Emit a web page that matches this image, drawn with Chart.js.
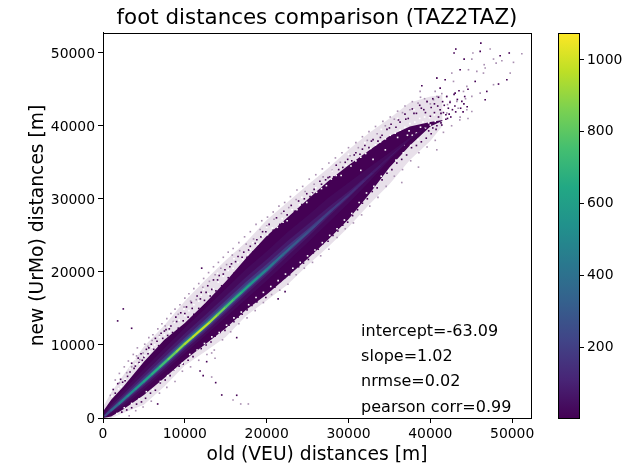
<!DOCTYPE html>
<html><head><meta charset="utf-8">
<script src="https://cdn.jsdelivr.net/npm/chart.js@4"></script>
<style>html,body{margin:0;padding:0;background:#fff;overflow:hidden}canvas{position:absolute;top:0}</style>
</head><body>
<canvas id="main" width="636" height="466" style="left:0"></canvas>
<canvas id="bar" width="90" height="466" style="left:546px"></canvas>
<script>
const titleText = "foot distances comparison (TAZ2TAZ)";
const xTitle = "old (VEU) distances [m]";
const yTitle = "new (UrMo) distances [m]";
const statLines = ["intercept=-63.09","slope=1.02","nrmse=0.02","pearson corr=0.99"];
const axisTicks = [0,10000,20000,30000,40000,50000];
const colorbarTicks = [200,400,600,800,1000];
const countRange = [4,1075];
const viridisStops = ["#440154","#482576","#414487","#35608d","#2a788e","#21918c","#22a884","#44bf70","#7ad151","#bddf26","#fde725"];

const xKnots = [0,1000,2500,5000,7500,10000,12500,15000,17500,20000,22500,25000,27500,30000,32500,35000,37500,40000,41500];
const sparseLow = [0,0,700,1800,4300,7200,9100,11100,14000,16100,18200,20900,23400,26100,29200,32000,35300,37900,40000];
const sparseHigh = [1500,3500,5900,9800,12700,16000,18900,21600,24100,27100,29500,31900,34200,36700,39000,41000,43200,44000,44200];
const solidLow = [0,200,1200,3150,5480,7950,10100,12300,14800,16900,19300,21800,24400,27200,30600,34300,37300,39900,40700];
const solidHigh = [900,2500,4300,7700,10700,13000,15750,18700,21900,24900,27400,29900,32400,34600,36600,38600,39900,40500,40800];
const band30Low = [50,600,1600,3900,6350,8850,11300,13800,16300,18800,21400,24000,26700,29400,32300,35300,38100,40200,40700];
const band30High = [400,2000,3800,6700,9550,12350,15000,17700,20400,22800,25400,27700,30100,32200,34300,36300,38400,40200,40700];
const band80Low = [70,800,2000,4300,6750,9300,11750,14350,16950,19500,22150,24750,27500,30150,32900,35620,38200,40200,40700];
const band80High = [200,1600,3300,6100,8850,11550,14100,16700,19300,21700,24200,26500,28800,31000,33350,35800,38200,40200,40700];
const band180Low = [100,950,2200,4600,7050,9600,12050,14650,17300,19850,22500,25100,27820,30420,33100,35700,38200,40200,40700];
const band180High = [100,1350,2950,5600,8300,11000,13500,16100,18650,21050,23550,25850,28280,30600,33100,35700,38200,40200,40700];
const band320Low = [100,1050,2350,4780,7250,9800,12250,14870,17520,20100,22780,25350,28000,30500,33100,35700,38200,40200,40700];
const band320High = [100,1200,2720,5320,7980,10670,13150,15700,18230,20600,23070,25450,28000,30500,33100,35700,38200,40200,40700];
const band520Low = [100,1100,2450,4880,7370,9920,12370,15020,17700,20300,22900,25400,28000,30500,33100,35700,38200,40200,40700];
const band520High = [100,1100,2580,5160,7800,10470,12920,15450,17920,20300,22900,25400,28000,30500,33100,35700,38200,40200,40700];

const ridgeX = [300,1000,2000,3000,4000,5000,6000,7000,8000,9000,10000,11000,12000,13000,14000,15000,16000,17000,18000,19000,20000,21000,22000,23000,24000,25000,26000,27000,28000,29000,30000,31000,32000,33000,34000,35000];
const ridgeY = [350,1050,2000,3000,4000,5000,6020,7040,8070,9110,10150,11130,12100,13080,14130,15200,16240,17280,18310,19300,20300,21340,22380,23400,24400,25400,26420,27480,28500,29500,30500,31540,32580,33600,34640,35700];
const ridgeCount = [180,300,430,490,540,590,640,700,790,870,920,960,1000,960,900,800,720,650,590,530,470,410,370,330,290,260,230,210,190,170,150,125,105,85,65,50];

const specksDark = [[2480,14930],[1790,13290],[3500,12280],[12060,20510],[12670,7710],[11860,6440],[12240,5800],[13770,4840],[14510,3150],[16340,3110],[6680,1920],[16340,11000],[22250,17300],[21400,16300],
[1250,3900],[1800,4700],[2150,5300],[2700,5100],[3300,6300],[3500,7500],[3950,7100],[4300,8200],[4650,8800],[4800,7900],[5300,9400],[5500,8800],[5900,10100],[6200,9400],[6400,10900],[6800,9900],[7100,11600],[7300,10900],[7700,12100],[7900,11300],[8300,12600],[8500,11700],[8900,13800],[9200,12300],[9500,14400],[9800,13300],[10200,15200],[10400,13800],[10800,15800],[11100,14200],[11500,16700],[11700,15000],[12000,17200],[12400,16100],[12800,18100],[13100,16700],[13500,18900],[13800,17400],[14200,19500],[14500,18100],[14900,20300],[15300,19200],[15700,21100],[16000,19800],[16500,22100],[16800,20500],[17200,22700],[17600,22000],[18000,23500],[18300,22700],[18800,24400],[19100,23400],[19500,25500],[19900,25500],[20300,26500],[20800,25700],[21200,27400],[21600,26500],[22100,28300],[22500,27800],[23000,29100],[23400,28300],[23900,29700],[24300,29200],[24900,30700],[25300,30300],[25800,31300],[26300,31000],[26700,32000],[27200,32600],[27700,33000],[28200,33000],[28800,34000],[29300,34300],[29900,35400],[30400,35200],[30900,36300],[31400,36100],[32000,37300],[32500,37000],[33000,38100],[33600,37900],[34100,38700],[34700,39500],[35200,40200],[35800,39800],[36300,40500],[36900,41600],[37300,41000],[37800,42300],[38300,41700],[38700,42800],[39200,42200],[39600,43300],[40100,42500],[40500,43000],[41000,43900],[41200,42200],[41700,42800],[42000,44000],[42400,43200],[42900,44300],[43300,43600],[43640,47670],[43110,50500],[42900,49960],[46170,51320],[49640,49960],[46090,50180],[45480,46070],[48330,45710],[46900,44700],[46700,43560],[49350,46300],[44130,49130],[48530,49590],[40790,46530],[38960,45480],[41200,45160],[41810,46300],[43030,44470],[43850,43330],
[2300,800],[2900,1100],[3500,1400],[4100,1900],[4700,2200],[5200,2700],[5800,3400],[6400,3800],[7000,4800],[7600,5200],[8200,5800],[8700,6600],[9300,7100],[9800,7400],[10400,7900],[11000,8400],[11500,9300],[12000,9500],[12600,10000],[13200,10400],[13700,11200],[14300,11700],[14900,12000],[15400,12700],[16000,13200],[16500,13800],[17000,14200],[17600,14800],[18200,15400],[18800,15900],[19300,16700],[19900,16500],[20500,17600],[21000,17900],[21700,18700],[22200,19200],[22800,19600],[23300,20400],[23900,20700],[24500,21200],[25100,21700],[25700,22600],[26300,23100],[26900,23900],[27500,24200],[28100,25000],[28700,25600],[29300,26400],[29900,26800],[30500,27700],[31100,28500],[31700,29400],[32300,30000],[32900,31000],[33500,31500],[34100,32600],[34700,33500],[35300,34000],[35900,34900],[36500,35400],[37100,36000],[37700,37000],[38300,37300],[38900,37800],[39500,38300],[40100,38900],[40700,39500],[41300,40400],[41900,40900],[42500,41200],[43100,41900],[43700,42400],[44100,43000],[44500,42600],
[1500,3400],[2400,4900],[3000,5700],[3800,6800],[4400,7600],[5000,8300],[5600,9600],[6600,10500],[7500,11900],[8100,12200],[9000,13200],[10000,14300],[10900,15000],[11900,16300],[12600,17200],[13300,17600],[14000,18900],[14700,19700],[15500,20700],[16200,21400],[17000,22000],[17800,23000],[18600,23900],[19300,24800],[24600,30000],[25600,30800],[26500,32400],[27500,32900],[28500,34600],[29600,35000],[30700,36000],[31700,36800],[32800,37900],[33900,38400],[35000,39700],[36100,40800],[37000,40900],[38000,41700],[38900,42400],[39400,41800],[40300,43700],[40900,42700],[41500,43300],[42200,42400],[42700,42200],[43500,44800],[44200,44000],[41600,41800],[42300,41600],[43000,42700],[44600,45000],[44000,41900],
[40000,41300],[40500,41800],[41000,41200],[41300,41700],[41900,41500],[42100,41000],[40800,40000],[41400,40100],[39800,39300],[40300,39700]];

const specksLight = [[13690,8180],[13280,8900],[13280,5610],[15890,2470],[16830,1920],[17760,1920],[47310,50500],[45200,49960],[51180,49860],[50160,48680],[48740,48900],[47720,49130],[45070,49130],[48040,48580],[46580,48360],[49760,47210],[47720,45620],[46090,44470],[44660,47670],[45680,47440],[46700,47900],[46490,47210],[42620,47210],[40790,46530],[42830,46070],[44050,44700],[44460,45390],[45070,44020],[44460,42190],[43640,41190],[45070,41960],[40790,36710],[38550,34340],[36510,32230],[38750,44700],[39570,43330],[40590,44700],[42010,44020],[42420,43330],[43240,43330],[41200,42190],[42010,41740],[40380,43560],
[900,3100],[1500,5200],[2000,6100],[2600,7000],[3100,7800],[3700,8700],[4200,9600],[4500,8000],[5100,10100],[5600,11000],[6100,11400],[6700,12200],[7200,12900],[7800,13600],[8300,14300],[8800,14900],[9400,15500],[10000,16400],[10500,17000],[11100,17700],[11700,18400],[12300,19100],[12900,19900],[13500,20700],[14100,21300],[14700,22000],[15300,22700],[15900,23200],[16600,24000],[17300,24800],[18000,25500],[18700,26500],[19400,27000],[20100,27500],[20800,28200],[21500,29000],[22200,29500],[22900,30300],[23700,31200],[24400,31700],[25200,32700],[26000,33300],[26800,34100],[27600,34900],[28400,35600],[29200,36300],[30000,37000],[30900,37700],[31700,38500],[32500,39200],[33300,39900],[34200,40600],[35100,41200],[36000,42000],[36900,42700],[37800,43300],[38800,43900],
[3200,300],[4000,1000],[4900,1500],[5900,2300],[6900,3400],[7800,4200],[8800,5000],[9700,6400],[10700,7000],[11700,7900],[12700,8700],[13600,9300],[14600,10700],[15600,11800],[16600,12900],[17600,13700],[18600,14700],[19600,15800],[20600,16900],[21600,17500],[22600,18300],[23600,19600],[24600,20500],[25600,21300],[26600,22200],[27600,23100],[28600,24700],[29600,25900],[30600,26700],[31600,27800],[32600,29000],[33600,30200],[34600,31700],[35600,33100],[36600,34000],[37600,35200],[38600,36300],[39600,37100],[40600,38000],[41600,39100],[42600,40000],[43600,40800],[44600,41000],
[2000,4800],[2900,6200],[3500,7000],[4100,8500],[4900,8900],[5500,9800],[6000,10600],[6900,11300],[7600,12600],[8600,13200],[9200,14200],[9900,15200],[10700,16000],[11400,16200],[12200,17900],[13000,18700],[13700,19600],[14400,20500],[15100,21000],[15800,22300],[16700,22900],[17500,23800],[18400,24500],[19200,25800],[20000,26300],[20900,27200],[21800,28000],[22700,28800],[23600,29900],[24700,31000],[25800,32000],[26900,33000],[28000,33900],[29000,35000],[30200,35900],[31200,37000],[32300,38000],[33500,38900],[34500,40000],[35600,40900],[36600,41800],[37500,42200],[38500,43100],[39300,43700],[40000,43000],[40800,44000],[41400,44400],[42100,42900],[43400,42400],[44300,43700]];

const specksWhite = [[1100,3000],[1900,4000],[2700,5300],[3300,6800],[3900,8000],[4500,7400],[5100,8500],[5700,9100],[6300,10000],[6900,11100],[7500,11400],[8100,11800],[8700,13100],[9300,13400],[9900,14900],[10500,14700],[11100,15500],[11700,16000],[12300,17600],[12900,17000],[13500,17700],[14100,18600],[14700,19400],[15300,20200],[15900,20500],[16500,21300],[17100,21700],[17700,22400],[18300,24000],[18900,23800],[19500,24900],[20100,25100],[20700,26000],[21300,26100],[21900,27300],[22500,27000],[23100,28500],[23700,28500],[24300,30200],[24900,29500],[25500,30700],[26100,30900],[26700,31400],[27300,31800],[27900,32700],[28500,33200],[29100,33200],[29700,34600],[30300,34500],[30900,35200],[31500,35700],[32100,36200],[32700,36900],[33300,37400],[33900,37800],[34500,38200],[35100,38700],[35700,39000],[36300,39400],[36900,39800],[37500,40300],[38100,40500],[38700,41000],[39300,41200],[39900,41100],[40500,41500],[37200,38700],[36800,37400],[38800,39800],[39400,39700],[40000,40100],[40600,40600],[37800,38700],
[1700,600],[2600,1400],[3500,2000],[4400,2600],[5300,3600],[6100,3900],[7000,5000],[7900,5800],[8800,6600],[9700,7500],[10600,8700],[11500,9300],[12400,10200],[13300,11100],[14200,11700],[15100,12700],[16000,13700],[16900,14500],[17800,15500],[18700,16500],[19600,17200],[20500,18000],[21400,18800],[22300,19700],[23200,20500],[24100,21300],[25000,22200],[25900,23000],[26800,24000],[27700,25000],[28600,25900],[29500,27100],[30400,28000],[31300,29500],[32200,30800],[33100,31700],[34000,33100],[34900,33800],[35800,35300],[36700,36300],[37600,37300],[38500,38100],
[2200,4300],[4000,7400],[6000,9700],[8000,12500],[10000,14000],[12000,16800],[14000,19800],[16000,21800],[18000,23100],[20000,26100],[22000,26800],[24000,29200],[26000,31500],[28000,33800],[30000,36100],[32000,37700],[34000,39500],[36000,41000],[38000,42200],[33000,35400],[34500,36700],[31500,33900],[36000,38400],[37400,39300],[38300,39000],[39100,40500],[39800,40400]];

function viridis(t){
  t=Math.max(0,Math.min(1,t));
  const p=t*(viridisStops.length-1),i=Math.min(Math.floor(p),viridisStops.length-2),f=p-i;
  const h=s=>[1,3,5].map(k=>parseInt(s.substr(k,2),16));
  const a=h(viridisStops[i]),b=h(viridisStops[i+1]);
  return `rgb(${a.map((v,k)=>Math.round(v+(b[k]-v)*f)).join(",")})`;
}
const countColor=c=>viridis((c-countRange[0])/(countRange[1]-countRange[0]));
const pts=(xs,ys)=>xs.map((x,i)=>({x,y:ys[i]}));
const datasets=[];
let drawOrder=50;
function band(lo,hi,color){
  datasets.push({data:pts(xKnots,lo),borderWidth:0,pointRadius:0,borderColor:"transparent",order:drawOrder--});
  datasets.push({data:pts(xKnots,hi),borderWidth:0,pointRadius:0,borderColor:"transparent",fill:"-1",backgroundColor:color,order:drawOrder--});
}
function specks(list,color){
  datasets.push({data:list.map(p=>({x:p[0],y:p[1]})),showLine:false,pointStyle:"rect",pointRadius:1.15,pointBorderWidth:0,pointBackgroundColor:color,order:drawOrder--});
}
band(sparseLow,sparseHigh,"rgba(68,1,84,0.12)");
band(solidLow,solidHigh,"#440154");
specks(specksLight,"#a98fb1");
specks(specksDark,"#440154");
specks(specksWhite,"#ffffff");
band(band30Low,band30High,countColor(30));
band(band80Low,band80High,countColor(80));
band(band180Low,band180High,countColor(180));
band(band320Low,band320High,countColor(320));
band(band520Low,band520High,countColor(520));
datasets.push({data:pts(ridgeX,ridgeY),borderWidth:2.1,pointRadius:0,borderCapStyle:"round",order:0,
  segment:{borderColor:ctx=>countColor((ridgeCount[ctx.p0DataIndex]+ridgeCount[ctx.p1DataIndex])/2)}});

const FONT="'DejaVu Sans'";
const frame={id:"frame",afterDatasetsDraw(c){
  const a=c.chartArea,g=c.ctx;g.save();g.strokeStyle="#000";g.lineWidth=1;
  g.strokeRect(Math.round(a.left)+.5,Math.round(a.top)+.5,Math.round(a.right-a.left),Math.round(a.bottom-a.top));g.restore();
}};
const stats={id:"stats",afterDatasetsDraw(c){
  const g=c.ctx,x=c.scales.x.getPixelForValue(31540),top=c.scales.y.getPixelForValue(11780);
  g.save();g.fillStyle="#000";g.font="16px "+FONT;g.textBaseline="middle";
  statLines.forEach((s,i)=>g.fillText(s,x,top+i*25.2));g.restore();
}};
const tickFont={family:FONT,size:13.9};
const useTicks=s=>{s.ticks=axisTicks.map(value=>({value}));};
new Chart(document.getElementById("main"),{
  type:"line",
  data:{datasets},
  options:{responsive:false,animation:false,parsing:true,
    layout:{padding:{right:105,left:0,top:0,bottom:0}},
    events:[],
    plugins:{legend:{display:false},tooltip:{enabled:false},
      title:{display:true,text:titleText,fullSize:false,color:"#000",font:{family:FONT,size:21.4,weight:"normal"},padding:{top:6,bottom:1.3}}},
    scales:{
      x:{type:"linear",min:0,max:52300,border:{color:"#000"},
        grid:{drawOnChartArea:false,color:"#000",tickLength:5},
        afterBuildTicks:useTicks,
        ticks:{color:"#000",font:tickFont,maxRotation:0,autoSkip:false,padding:3,callback:v=>String(v)},
        title:{display:true,text:xTitle,color:"#000",font:{family:FONT,size:18.7},padding:{top:0,bottom:0}},
        afterFit(s){s.height=48;}},
      y:{type:"linear",min:0,max:52700,border:{color:"#000"},
        grid:{drawOnChartArea:false,color:"#000",tickLength:5},
        afterBuildTicks:useTicks,
        ticks:{color:"#000",font:tickFont,autoSkip:false,padding:3,labelOffset:1.5,callback:v=>String(v)},
        title:{display:true,text:yTitle,color:"#000",font:{family:FONT,size:18.7},padding:{top:27,bottom:0}},
        afterFit(s){s.width=103;}}
    }},
  plugins:[frame,stats]
});
new Chart(document.getElementById("bar"),{
  type:"bar",
  data:{labels:["counts"],datasets:[{data:[countRange],barPercentage:1,categoryPercentage:1,borderWidth:0,
    backgroundColor(ctx){
      const a=ctx.chart.chartArea;if(!a)return viridisStops[0];
      const g=ctx.chart.ctx.createLinearGradient(0,a.bottom,0,a.top);
      viridisStops.forEach((c,i)=>g.addColorStop(i/(viridisStops.length-1),c));return g;}}]},
  options:{responsive:false,animation:false,events:[],
    layout:{padding:{left:12,right:0,top:33,bottom:48}},
    plugins:{legend:{display:false},tooltip:{enabled:false},title:{display:false}},
    scales:{
      x:{display:false},
      y:{position:"right",min:countRange[0],max:countRange[1],border:{color:"#000"},
        grid:{drawOnChartArea:false,color:"#000",tickLength:5},
        afterBuildTicks(s){s.ticks=colorbarTicks.map(value=>({value}));},
        ticks:{color:"#000",font:tickFont,padding:3,autoSkip:false,callback:v=>String(v)},
        afterFit(s){s.width=57;}}
    }},
  plugins:[frame]
});
</script>
</body></html>
